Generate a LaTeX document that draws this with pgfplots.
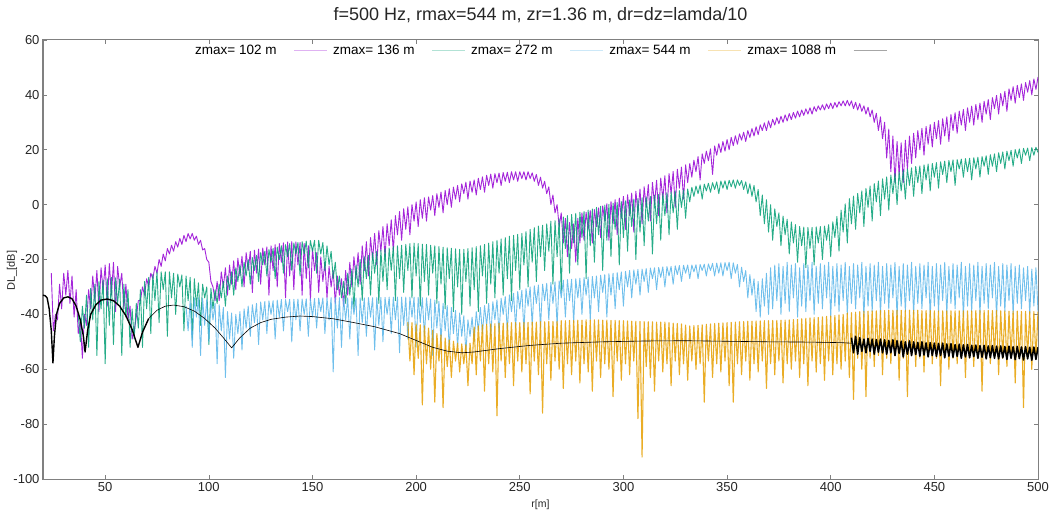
\documentclass[border=0pt]{standalone}
\usepackage{pgfplots}
\pgfplotsset{compat=1.18}
\usepackage{fontspec}
\setmainfont{Liberation Sans}

\definecolor{cPurple}{HTML}{9400D3}
\definecolor{cGreen}{HTML}{009E73}
\definecolor{cBlue}{HTML}{56B4E9}
\definecolor{cOrange}{HTML}{E69F00}
\definecolor{axgray}{HTML}{808080}

\begin{document}
\begin{tikzpicture}
\begin{axis}[
  scale only axis,
  width=995pt, height=439pt,
  xmin=20, xmax=500, ymin=-100, ymax=60,
  xtick={50,100,...,500},
  ytick={-100,-80,...,60},
  tick align=inside,
  major tick length=4pt,
  axis line style={draw=axgray, line width=1pt},
  every tick/.style={draw=axgray, line width=0.6pt},
  ticklabel style={font=\fontsize{13}{15}\selectfont, text=black!85},
  /pgf/number format/assume math mode=true,
  title={f=500 Hz, rmax=544 m, zr=1.36 m, dr=dz=lamda/10},
  title style={font=\fontsize{18}{20}\selectfont, at={(0.5,1)}, anchor=base, yshift=13pt, text=black!85},
  xlabel={r[m]},
  xlabel style={font=\fontsize{10.5}{12}\selectfont, at={(0.5,0)}, anchor=base, yshift=-28pt, text=black!85},
  ylabel={DL\_[dB]},
  ylabel style={font=\fontsize{11}{13}\selectfont, at={(0,0.475)}, anchor=center, yshift=31pt, text=black!85},
  no markers,
  every axis plot/.append style={line join=round, line width=0.9pt, opacity=0.85},
  legend plot pos=right,
  legend columns=-1,
  legend image code/.code={%
    \draw[#1, line width=1.2pt] (0pt,0pt) -- (33pt,0pt);
    \draw[white, opacity=0.65, line width=1.6pt] (0pt,0pt) -- (33pt,0pt);},
  legend style={at={(0.5,1)}, anchor=north, yshift=-1pt, draw=none, fill=none,
    font=\fontsize{13.5}{15}\selectfont,
    /tikz/every even column/.append style={column sep=3pt},
    /tikz/every odd column/.append style={column sep=15pt}},
]

% zmax = 102 m
\addplot[cPurple] coordinates {
(24,-25)(25,-46)(26,-40)(27,-42)(28,-29)(29,-38)(30,-25)(31,-33)(32,-24)(33,-36)
(34,-26)(35,-41)(36,-31)(37,-47)(38,-42)(39,-56)(40,-40)(41,-44)(42,-31)(43,-38)
(44,-26)(45,-35)(46,-24)(47,-39)(48,-23)(49,-31)(50,-22)(51,-37)(52,-21.5)(53,-33)
(54,-21)(55,-39)(56,-22.5)(57,-30)(58,-25)(59,-38)(60,-29)(61,-42)(62,-37)(63,-49)
(64,-46)(65,-41)(66,-35)(67,-35)(68,-30)(69,-33)(70,-27)(71,-30)(72,-25)(73,-27)
(74,-22.5)(75,-25)(76,-20)(77,-22.5)(78,-18)(79,-20.5)(80,-16)(81,-18)(82,-14.8)(83,-17)
(84,-13.5)(85,-15.5)(86,-12.3)(87,-14.5)(88,-11.2)(89,-13.5)(90,-10.5)(91,-12.5)(92,-10.5)(93,-13)
(94,-11.5)(95,-14.5)(96,-13)(97,-16.5)(98,-16)(99,-20)(100,-21)(101,-28)(102,-30)(103,-35)
(104,-28)(105,-35)(106,-24.5)(107,-30)(108,-23)(109,-33)(110,-22)(111,-29)(112,-20.5)(113,-31)
(114,-19.5)(115,-26)(116,-18.8)(117,-30)(118,-17.5)(119,-24)(120,-17)(121,-32)(122,-16.6)(123,-25)
(124,-16.2)(125,-29)(126,-15.8)(127,-22)(128,-15.4)(129,-33)(130,-15)(131,-24)(132,-14.6)(133,-30)
(134,-14.2)(135,-21)(136,-13.9)(137,-34)(138,-13.6)(139,-26)(140,-13.5)(141,-31)(142,-13.6)(143,-22)
(144,-13.8)(145,-33)(146,-14.2)(147,-27)(148,-15)(149,-35)(150,-16)(151,-24)(152,-17.5)(153,-32)
(154,-19)(155,-28)(156,-21)(157,-34)(158,-22.5)(159,-30)(160,-24)(161,-36)(162,-26)(163,-33)
(164,-27)(165,-37)(166,-24)(167,-33)(168,-21)(169,-30)(170,-19)(171,-27)(172,-17.5)(173,-29)
(174,-15)(175,-24)(176,-13.5)(177,-26)(178,-12)(179,-20)(180,-10.5)(181,-22)(182,-9.5)(183,-17)
(184,-8)(185,-19)(186,-7)(187,-15)(188,-5.5)(189,-17)(190,-4)(191,-11)(192,-2.5)(193,-13)
(194,-1.5)(195,-9)(196,-0.8)(197,-11)(198,0)(199,-6)(200,1)(201,-8)(202,1.8)(203,-5)
(204,2.5)(205,-6)(206,2.8)(207,-2)(208,3.3)(209,-4)(210,4)(211,-1)(212,4.6)(213,-3)
(214,5.2)(215,0)(216,5.8)(217,-1)(218,6.4)(219,2)(220,7)(221,1)(222,7.6)(223,4)
(224,8.2)(225,2)(226,8.6)(227,4.5)(228,9)(229,3.5)(230,9.6)(231,5.5)(232,10.1)(233,4.5)
(234,10.7)(235,7)(236,11.1)(237,6)(238,11.3)(239,8)(240,11.5)(241,7)(242,11.7)(243,8.5)
(244,11.8)(245,8)(246,12)(247,9)(248,12)(249,8.5)(250,12)(251,9.5)(252,12)(253,9)
(254,12)(255,9.5)(256,11.6)(257,8.5)(258,11)(259,7)(260,10)(261,6)(262,8.5)(263,4)
(264,6.5)(265,0)(266,3.5)(267,-3)(268,0)(269,-8)(270,-3)(271,-14)(272,-5)(273,-19)
(274,-6.5)(275,-16)(276,-7)(277,-21)(278,-5)(279,-14)(280,-3)(281,-13)(282,-2.8)(283,-9)
(284,-2.2)(285,-14)(286,-1.8)(287,-8)(288,-1.2)(289,-12)(290,-0.5)(291,-6)(292,0.3)(293,-13)
(294,1.1)(295,-7)(296,1.8)(297,-11)(298,2.4)(299,-5)(300,3)(301,-9)(302,3.6)(303,-4)
(304,4.2)(305,-10)(306,4.9)(307,-3)(308,5.7)(309,-7)(310,6.5)(311,-1)(312,7.3)(313,-6)
(314,8.1)(315,0)(316,8.9)(317,-4)(318,9.7)(319,2)(320,10.5)(321,-3)(322,11.3)(323,4)
(324,12.1)(325,-1)(326,12.9)(327,6)(328,13.7)(329,2)(330,14.5)(331,8)(332,15)(333,10)
(334,16.2)(335,12)(336,17.5)(337,9)(338,18.5)(339,15)(340,19.5)(341,16)(342,20.3)(343,11)
(344,21.4)(345,18)(346,22.2)(347,19)(348,23)(349,19.5)(350,23.7)(351,20)(352,24.5)(353,21.5)
(354,25.1)(355,22)(356,25.8)(357,23.5)(358,26.4)(359,23)(360,27)(361,24.5)(362,27.7)(363,25)
(364,28.4)(365,25.5)(366,29.1)(367,27)(368,29.8)(369,27)(370,30.5)(371,28)(372,31.1)(373,29)
(374,31.7)(375,29.5)(376,32.2)(377,30)(378,32.7)(379,30.5)(380,33.2)(381,31)(382,33.6)(383,31.5)
(384,34.1)(385,32)(386,34.5)(387,32.5)(388,34.9)(389,33)(390,35.3)(391,33)(392,35.7)(393,34)
(394,36)(395,34.5)(396,36.4)(397,34.5)(398,36.7)(399,35)(400,37)(401,35)(402,37.2)(403,35.5)
(404,37.5)(405,36)(406,37.8)(407,36)(408,38)(409,36)(410,37.8)(411,35)(412,37.3)(413,34.5)
(414,36.8)(415,34)(416,36)(417,33)(418,35.5)(419,32)(420,34.5)(421,30)(422,33.3)(423,27)
(424,32)(425,24)(426,30)(427,17)(428,27.5)(429,12)(430,25)(431,8)(432,23)(433,11)
(434,22.5)(435,8)(436,23.5)(437,13)(438,25)(439,15)(440,26)(441,17)(442,27)(443,20)
(444,27.8)(445,18)(446,28.5)(447,22)(448,29.2)(449,21)(450,30)(451,24)(452,30.6)(453,22)
(454,31.3)(455,25)(456,32)(457,23)(458,32.8)(459,27)(460,33.5)(461,26)(462,34.1)(463,29)
(464,34.7)(465,27)(466,35.3)(467,30)(468,35.9)(469,29)(470,36.5)(471,31)(472,37)(473,30)
(474,37.7)(475,33)(476,38.3)(477,31)(478,39)(479,35)(480,39.8)(481,33)(482,40.5)(483,36)
(484,41.3)(485,34)(486,42.2)(487,38)(488,43)(489,37)(490,43.5)(491,39)(492,44)(493,38)
(494,44.5)(495,41)(496,45.2)(497,40)(498,45.8)(499,42)(500,46.5)
};
\addlegendentry{zmax= 102 m}

% zmax = 136 m
\addplot[cGreen] coordinates {
(37,-40)(38,-50)(39,-37)(40,-45)(41,-33)(42,-52)(43,-30.5)(44,-42)(45,-29)(46,-55)
(47,-28)(48,-38)(49,-27.5)(50,-58)(51,-27)(52,-44)(53,-26.5)(54,-51)(55,-26.7)(56,-36)
(57,-27.2)(58,-55)(59,-29)(60,-41)(61,-31)(62,-52)(63,-38)(64,-49)(65,-36)(66,-45)
(67,-31)(68,-52)(69,-28)(70,-38)(71,-26.5)(72,-47)(73,-25.5)(74,-35)(75,-24.5)(76,-43)
(77,-24.5)(78,-31)(79,-24.5)(80,-48)(81,-24.5)(82,-34)(83,-25)(84,-40)(85,-25.3)(86,-30)
(87,-25.6)(88,-46)(89,-26)(90,-35)(91,-26.5)(92,-49)(93,-27)(94,-37)(95,-28.5)(96,-44)
(97,-29)(98,-34)(99,-30)(100,-51)(101,-30.5)(102,-38)(103,-31)(104,-36)(105,-29)(106,-34)
(107,-28)(108,-37)(109,-26)(110,-31)(111,-24.5)(112,-33)(113,-23)(114,-28)(115,-22)(116,-30)
(117,-21)(118,-26)(119,-20)(120,-29)(121,-19.3)(122,-24)(123,-18.5)(124,-28)(125,-17.5)(126,-22)
(127,-17)(128,-26)(129,-16.4)(130,-21)(131,-16)(132,-27)(133,-15.5)(134,-20)(135,-15)(136,-25)
(137,-14.6)(138,-19)(139,-14.2)(140,-24)(141,-14)(142,-18)(143,-13.8)(144,-26)(145,-13.5)(146,-18)
(147,-13.3)(148,-23)(149,-13.1)(150,-17)(151,-13)(152,-25)(153,-13)(154,-18)(155,-13.8)(156,-24)
(157,-15)(158,-22)(159,-17)(160,-27)(161,-21)(162,-31)(163,-26)(164,-34)(165,-28)(166,-36)
(167,-25)(168,-33)(169,-23.5)(170,-38)(171,-22)(172,-30)(173,-20)(174,-35)(175,-19)(176,-27)
(177,-18.5)(178,-33)(179,-17.5)(180,-25)(181,-17)(182,-36)(183,-16.6)(184,-28)(185,-16)(186,-31)
(187,-15.8)(188,-24)(189,-15.3)(190,-35)(191,-15)(192,-27)(193,-14.8)(194,-32)(195,-14.5)(196,-24)
(197,-14.2)(198,-34)(199,-14)(200,-26)(201,-14.2)(202,-37)(203,-14.4)(204,-28)(205,-14.5)(206,-33)
(207,-14.8)(208,-25)(209,-15)(210,-36)(211,-15.3)(212,-29)(213,-15.5)(214,-38)(215,-15.7)(216,-27)
(217,-15.9)(218,-39)(219,-16.1)(220,-30)(221,-16.3)(222,-40)(223,-16.3)(224,-28)(225,-16)(226,-37)
(227,-15.7)(228,-31)(229,-15.3)(230,-39)(231,-15)(232,-26)(233,-14.5)(234,-36)(235,-14)(236,-29)
(237,-13.5)(238,-34)(239,-13)(240,-25)(241,-12.5)(242,-33)(243,-12)(244,-27)(245,-11.5)(246,-35)
(247,-11.2)(248,-24)(249,-10.8)(250,-31)(251,-10.5)(252,-22)(253,-9.8)(254,-30)(255,-9)(256,-21)
(257,-8.4)(258,-28)(259,-7.8)(260,-19)(261,-7.5)(262,-24)(263,-7)(264,-17)(265,-6)(266,-29)
(267,-5.8)(268,-19)(269,-5.2)(270,-32)(271,-4.5)(272,-16)(273,-4)(274,-25)(275,-3.6)(276,-14)
(277,-3.2)(278,-22)(279,-2.8)(280,-12)(281,-2.5)(282,-27)(283,-2)(284,-15)(285,-1.6)(286,-21)
(287,-1)(288,-11)(289,-0.6)(290,-24)(291,-0.2)(292,-13)(293,0.1)(294,-19)(295,0.5)(296,-9)
(297,0.8)(298,-22)(299,1.1)(300,-12)(301,1.4)(302,-17)(303,1.7)(304,-8)(305,2)(306,-20)
(307,2.2)(308,-10)(309,2.5)(310,-15)(311,2.8)(312,-6)(313,3)(314,-18)(315,3.4)(316,-7)
(317,3.7)(318,-13)(319,4)(320,-4)(321,4.3)(322,-11)(323,4.6)(324,-3)(325,4.9)(326,-9)
(327,5.1)(328,-1)(329,5.4)(330,-5)(331,5.7)(332,1)(333,6.3)(334,3)(335,6.8)(336,4)
(337,7.2)(338,2)(339,7.5)(340,5)(341,7.8)(342,4.5)(343,8)(344,5.5)(345,8.3)(346,4)
(347,8.6)(348,6)(349,8.7)(350,5.5)(351,8.9)(352,6.5)(353,9)(354,6)(355,9)(356,7)
(357,8.8)(358,5.5)(359,8.3)(360,4)(361,7.6)(362,3)(363,7)(364,1)(365,5.5)(366,-4)
(367,3.5)(368,-7)(369,1.8)(370,-10)(371,0)(372,-13)(373,-1.5)(374,-8)(375,-3)(376,-15)
(377,-4.2)(378,-11)(379,-5.3)(380,-18)(381,-6.3)(382,-14)(383,-7.3)(384,-21)(385,-8)(386,-15)
(387,-8.2)(388,-23)(389,-8.3)(390,-16)(391,-8.3)(392,-22)(393,-8.1)(394,-14)(395,-8)(396,-20)
(397,-7.8)(398,-13)(399,-7.3)(400,-19)(401,-6.3)(402,-12)(403,-4.3)(404,-17)(405,-2)(406,-10)
(407,0.3)(408,-14)(409,2.2)(410,-7)(411,3.1)(412,-9)(413,4.1)(414,-3)(415,5)(416,-8)
(417,5.9)(418,-1)(419,6.8)(420,-6)(421,7.7)(422,1)(423,8.6)(424,-4)(425,9.4)(426,2)
(427,10.1)(428,-2)(429,10.8)(430,4)(431,11.4)(432,0)(433,12)(434,5)(435,12.5)(436,2)
(437,13)(438,7)(439,13.4)(440,3)(441,13.9)(442,8)(443,14.1)(444,4)(445,14.5)(446,9)
(447,14.8)(448,5)(449,15)(450,10)(451,15.3)(452,6)(453,15.6)(454,11)(455,15.9)(456,8)
(457,16.1)(458,12)(459,16.3)(460,7)(461,16.4)(462,13)(463,16.6)(464,10)(465,16.8)(466,12)
(467,16.9)(468,9)(469,17.1)(470,13)(471,17.3)(472,10)(473,17.5)(474,14)(475,17.8)(476,11)
(477,18.2)(478,14)(479,18.5)(480,12)(481,18.9)(482,15)(483,19.2)(484,13)(485,19.5)(486,16)
(487,19.8)(488,14)(489,20.1)(490,17)(491,20.3)(492,15)(493,20.5)(494,18)(495,20.6)(496,16)
(497,20.8)(498,18)(499,20.9)(500,19)
};
\addlegendentry{zmax= 136 m}

% zmax = 272 m
\addplot[cBlue] coordinates {
(89,-37)(90,-46)(91,-35)(92,-52)(93,-34)(94,-41)(95,-34)(96,-55)(97,-34.2)(98,-44)
(99,-34.5)(100,-50)(101,-35)(102,-42)(103,-36)(104,-58)(105,-36.5)(106,-46)(107,-37.5)(108,-63)
(109,-39)(110,-49)(111,-39.5)(112,-56)(113,-40)(114,-47)(115,-39)(116,-53)(117,-38)(118,-45)
(119,-37)(120,-48)(121,-36.5)(122,-43)(123,-36)(124,-51)(125,-35.5)(126,-42)(127,-35.3)(128,-47)
(129,-35.1)(130,-40)(131,-35)(132,-49)(133,-34.8)(134,-41)(135,-34.6)(136,-46)(137,-34.6)(138,-39)
(139,-34.5)(140,-50)(141,-34.5)(142,-42)(143,-34.4)(144,-46)(145,-34.4)(146,-40)(147,-34.3)(148,-48)
(149,-34.3)(150,-41)(151,-34.2)(152,-45)(153,-34.1)(154,-39)(155,-34)(156,-47)(157,-34)(158,-42)
(159,-33.9)(160,-61)(161,-33.8)(162,-45)(163,-33.9)(164,-52)(165,-34)(166,-42)(167,-34)(168,-49)
(169,-34)(170,-40)(171,-34)(172,-55)(173,-34)(174,-43)(175,-34)(176,-48)(177,-33.9)(178,-41)
(179,-33.9)(180,-53)(181,-33.8)(182,-44)(183,-33.8)(184,-50)(185,-33.8)(186,-40)(187,-33.7)(188,-47)
(189,-33.7)(190,-42)(191,-33.7)(192,-54)(193,-33.7)(194,-44)(195,-33.7)(196,-49)(197,-33.7)(198,-41)
(199,-33.7)(200,-52)(201,-33.8)(202,-43)(203,-33.9)(204,-48)(205,-34)(206,-42)(207,-34.4)(208,-55)
(209,-34.8)(210,-45)(211,-35.3)(212,-50)(213,-36)(214,-46)(215,-36.8)(216,-53)(217,-37.5)(218,-47)
(219,-38.5)(220,-52)(221,-39.5)(222,-48)(223,-40.5)(224,-54)(225,-42)(226,-48)(227,-41)(228,-50)
(229,-39)(230,-46)(231,-37.5)(232,-47)(233,-36.8)(234,-44)(235,-36)(236,-48)(237,-35.4)(238,-42)
(239,-34.7)(240,-47)(241,-34.1)(242,-40)(243,-33.5)(244,-46)(245,-32.9)(246,-39)(247,-32.3)(248,-45)
(249,-31.7)(250,-38)(251,-31.2)(252,-46)(253,-30.6)(254,-37)(255,-30)(256,-44)(257,-29.6)(258,-36)
(259,-29.3)(260,-45)(261,-29)(262,-35)(263,-28.7)(264,-42)(265,-28.4)(266,-36)(267,-28.1)(268,-44)
(269,-27.8)(270,-34)(271,-27.5)(272,-41)(273,-27.3)(274,-35)(275,-27.2)(276,-43)(277,-27)(278,-34)
(279,-26.8)(280,-40)(281,-26.6)(282,-33)(283,-26.4)(284,-42)(285,-26.2)(286,-34)(287,-26)(288,-39)
(289,-25.7)(290,-32)(291,-25.5)(292,-41)(293,-25.2)(294,-33)(295,-25)(296,-38)(297,-24.8)(298,-31)
(299,-24.5)(300,-37)(301,-24.3)(302,-30)(303,-24)(304,-34)(305,-23.8)(306,-29)(307,-23.6)(308,-33)
(309,-23.5)(310,-28)(311,-23.3)(312,-32)(313,-23.1)(314,-27)(315,-23)(316,-31)(317,-22.9)(318,-26.5)
(319,-22.7)(320,-30)(321,-22.6)(322,-26)(323,-22.5)(324,-29)(325,-22.3)(326,-25.5)(327,-22.2)(328,-28)
(329,-22.1)(330,-25)(331,-22)(332,-27)(333,-22)(334,-24.5)(335,-21.9)(336,-27)(337,-21.8)(338,-24)
(339,-21.7)(340,-26)(341,-21.6)(342,-24)(343,-21.4)(344,-26)(345,-21.3)(346,-25)(347,-21.2)(348,-26)
(349,-21.1)(350,-24)(351,-21)(352,-27)(353,-21.2)(354,-25)(355,-21.8)(356,-30)(357,-22.8)(358,-28)
(359,-24)(360,-34)(361,-25.5)(362,-33)(363,-27)(364,-39)(365,-28)(366,-41)(367,-27)(368,-37)
(369,-25)(370,-40)(371,-23)(372,-38)(373,-22)(374,-35)(375,-21.5)(376,-40)(377,-22.5)(378,-36)
(379,-21)(380,-39)(381,-22)(382,-34)(383,-21.5)(384,-41)(385,-23)(386,-37)(387,-21.5)(388,-39)
(389,-22)(390,-35)(391,-21)(392,-40)(393,-22.5)(394,-36)(395,-21.5)(396,-38)(397,-22)(398,-34)
(399,-21)(400,-41)(401,-22.5)(402,-37)(403,-21.5)(404,-39)(405,-22)(406,-35)(407,-21)(408,-40)
(409,-22.5)(410,-36)(411,-21.5)(412,-38)(413,-22)(414,-34)(415,-21)(416,-41)(417,-22.5)(418,-37)
(419,-21.5)(420,-39)(421,-22)(422,-35)(423,-21)(424,-40)(425,-22.5)(426,-36)(427,-21.5)(428,-38)
(429,-22)(430,-34)(431,-21)(432,-41)(433,-22.5)(434,-37)(435,-21.5)(436,-39)(437,-22)(438,-35)
(439,-21)(440,-40)(441,-22.5)(442,-36)(443,-21.5)(444,-38)(445,-22)(446,-34)(447,-21)(448,-41)
(449,-22.5)(450,-37)(451,-21.5)(452,-39)(453,-22)(454,-35)(455,-21)(456,-40)(457,-22.5)(458,-36)
(459,-21.5)(460,-38)(461,-22)(462,-34)(463,-21)(464,-41)(465,-22.5)(466,-37)(467,-21.5)(468,-39)
(469,-22)(470,-35)(471,-21)(472,-40)(473,-22.5)(474,-36)(475,-21.5)(476,-38)(477,-22)(478,-34)
(479,-21)(480,-41)(481,-22.5)(482,-37)(483,-21.5)(484,-39)(485,-22)(486,-35)(487,-21.5)(488,-40)
(489,-22.5)(490,-36)(491,-22)(492,-38)(493,-23)(494,-35)(495,-22.5)(496,-40)(497,-23.5)(498,-37)
(499,-23)(500,-39)
};
\addlegendentry{zmax= 272 m}

% zmax = 544 m
\addplot[cOrange, line width=1.1pt] coordinates {
(196,-42.8)(197,-57)(198,-43)(199,-62)(200,-43.5)(201,-56)(202,-43.8)(203,-73)(204,-44.2)(205,-58)
(206,-45)(207,-60)(208,-45.8)(209,-72)(210,-47)(211,-57)(212,-47.5)(213,-74)(214,-48.6)(215,-59)
(216,-49.3)(217,-63)(218,-49.8)(219,-57)(220,-50.5)(221,-61)(222,-50.8)(223,-58)(224,-51)(225,-66)
(226,-50.5)(227,-58)(228,-44.6)(229,-62)(230,-44.2)(231,-57)(232,-43.8)(233,-68)(234,-43.6)(235,-58)
(236,-43.5)(237,-61)(238,-43.4)(239,-77)(240,-43.2)(241,-57)(242,-43.2)(243,-63)(244,-43.1)(245,-58)
(246,-43)(247,-66)(248,-43)(249,-57)(250,-43)(251,-61)(252,-42.9)(253,-58)(254,-42.9)(255,-69)
(256,-42.8)(257,-57)(258,-42.8)(259,-62)(260,-42.7)(261,-76)(262,-42.7)(263,-58)(264,-42.6)(265,-64)
(266,-42.6)(267,-57)(268,-42.5)(269,-60)(270,-42.3)(271,-67)(272,-42.3)(273,-58)(274,-42.2)(275,-62)
(276,-42.2)(277,-57)(278,-42.1)(279,-65)(280,-42.1)(281,-58)(282,-42)(283,-61)(284,-42)(285,-68)
(286,-42)(287,-57)(288,-42)(289,-63)(290,-42.1)(291,-58)(292,-42.1)(293,-60)(294,-42.2)(295,-70)
(296,-42.2)(297,-57)(298,-42.3)(299,-64)(300,-42.3)(301,-58)(302,-42.4)(303,-62)(304,-42.5)(305,-57)
(306,-42.5)(307,-78)(308,-42.6)(309,-92)(310,-42.6)(311,-59)(312,-42.7)(313,-63)(314,-42.7)(315,-68)
(316,-42.8)(317,-57)(318,-42.8)(319,-61)(320,-42.8)(321,-58)(322,-43)(323,-66)(324,-43.2)(325,-57)
(326,-43.3)(327,-62)(328,-43.5)(329,-58)(330,-43.9)(331,-64)(332,-44.2)(333,-57)(334,-44.1)(335,-60)
(336,-44)(337,-58)(338,-43.8)(339,-72)(340,-43.6)(341,-57)(342,-43.5)(343,-63)(344,-43.3)(345,-58)
(346,-43.2)(347,-61)(348,-43.1)(349,-57)(350,-43)(351,-66)(352,-42.9)(353,-72)(354,-42.8)(355,-58)
(356,-42.7)(357,-62)(358,-42.6)(359,-57)(360,-42.5)(361,-64)(362,-42.5)(363,-58)(364,-42.4)(365,-61)
(366,-42.4)(367,-57)(368,-42.3)(369,-67)(370,-42.3)(371,-58)(372,-42.2)(373,-62)(374,-42.2)(375,-57)
(376,-42.1)(377,-65)(378,-42.1)(379,-58)(380,-42)(381,-60)(382,-41.9)(383,-57)(384,-41.8)(385,-63)
(386,-41.6)(387,-58)(388,-41.4)(389,-66)(390,-41.3)(391,-57)(392,-41.2)(393,-61)(394,-41.1)(395,-58)
(396,-40.9)(397,-64)(398,-40.7)(399,-57)(400,-40.6)(401,-62)(402,-40.4)(403,-58)(404,-40.2)(405,-60)
(406,-40)(407,-57)(408,-39.5)(409,-63)(410,-39.4)(411,-71)(412,-39.2)(413,-56)(414,-39)(415,-60)
(416,-38.9)(417,-70)(418,-38.8)(419,-56)(420,-38.7)(421,-59)(422,-38.7)(423,-55)(424,-38.6)(425,-62)
(426,-38.6)(427,-56)(428,-38.5)(429,-58)(430,-38.5)(431,-55)(432,-38.5)(433,-64)(434,-38.5)(435,-56)
(436,-38.5)(437,-70)(438,-38.5)(439,-55)(440,-38.5)(441,-59)(442,-38.5)(443,-56)(444,-38.6)(445,-61)
(446,-38.6)(447,-55)(448,-38.6)(449,-58)(450,-38.7)(451,-56)(452,-38.7)(453,-66)(454,-38.7)(455,-55)
(456,-38.7)(457,-60)(458,-38.7)(459,-56)(460,-38.7)(461,-58)(462,-38.7)(463,-55)(464,-38.7)(465,-63)
(466,-38.7)(467,-56)(468,-38.7)(469,-59)(470,-38.6)(471,-55)(472,-38.6)(473,-68)(474,-38.6)(475,-56)
(476,-38.6)(477,-58)(478,-38.6)(479,-55)(480,-38.6)(481,-62)(482,-38.7)(483,-56)(484,-38.7)(485,-59)
(486,-38.8)(487,-55)(488,-38.8)(489,-65)(490,-38.8)(491,-56)(492,-38.9)(493,-74)(494,-38.9)(495,-55)
(496,-39)(497,-60)(498,-39)(499,-56)(500,-39)
};
\addlegendentry{zmax= 544 m}

% zmax = 1088 m: near range
\addplot[black, line width=1.4pt, opacity=1] coordinates {
(20,-33)(21,-33.2)(22,-34)(23,-38)(24,-46)(24.8,-57.7)(25.5,-48)(26.5,-40)(28,-36)(30,-34)
(32,-33.6)(34,-34.3)(36,-37)(38,-42)(39.5,-48)(40.3,-53.7)(41.5,-46)(43,-40)(45.5,-36.5)(48,-34.8)
(51,-34.4)(54,-35)(57,-37)(60,-40.5)(63,-45.5)(65.8,-52)(68,-46.5)(71,-41.5)
};
\addlegendentry{zmax= 1088 m}
% zmax = 1088 m: middle range
\addplot[black, line width=0.6pt, opacity=1, forget plot] coordinates {
(71,-41.5)(75,-38.5)(79,-37)(83,-36.6)(88,-37.2)(93,-38.8)(98,-41.5)(103,-45)(107,-48.5)(111,-52.2)
(115,-48.5)(120,-45)(125,-43)(130,-41.8)(137,-41)(144,-40.6)(150,-40.8)(160,-41.6)(170,-43)(180,-44.5)
(192,-47)(200,-49.5)(208,-52)(215,-53.4)(222,-54)(228,-53.7)(240,-52.5)(255,-51.3)(270,-50.5)(290,-50)
(310,-49.7)(330,-49.6)(350,-49.8)(370,-50)(390,-50.1)(405,-50.3)(410,-50.5)
};
% zmax = 1088 m: far range
\addplot[black, line width=1.6pt, opacity=1, forget plot] coordinates {
(410,-48.5)(411,-54)(412,-48)(413,-54.5)(414,-48.5)(415,-53.5)(416,-49)(417,-54)(418,-48.8)(419,-53.5)
(420,-49)(421,-54.5)(422,-49.2)(423,-53.8)(424,-49)(425,-54)(426,-49.3)(427,-54.5)(428,-49.5)(429,-54)
(430,-49.3)(431,-55)(432,-49.6)(433,-54.2)(434,-49.8)(435,-55.5)(436,-50)(437,-54.5)(438,-49.7)(439,-55)
(440,-50)(441,-54.6)(442,-50.2)(443,-55.2)(444,-50)(445,-54.8)(446,-50.4)(447,-55.5)(448,-50.3)(449,-55)
(450,-50.5)(451,-55.3)(452,-50.6)(453,-55)(454,-50.5)(455,-55.8)(456,-50.8)(457,-55.2)(458,-50.7)(459,-55.6)
(460,-51)(461,-55.3)(462,-50.9)(463,-56)(464,-51.1)(465,-55.5)(466,-51)(467,-55.8)(468,-51.3)(469,-55.4)
(470,-51.2)(471,-56)(472,-51.4)(473,-55.6)(474,-51.3)(475,-56.2)(476,-51.5)(477,-55.8)(478,-51.4)(479,-56)
(480,-51.6)(481,-56.2)(482,-51.5)(483,-55.8)(484,-51.7)(485,-56.4)(486,-51.6)(487,-56)(488,-51.8)(489,-56.5)
(490,-51.7)(491,-56.1)(492,-51.9)(493,-56.6)(494,-51.8)(495,-56.2)(496,-52)(497,-56.7)(498,-51.9)(499,-56.4)
(500,-52)
};
\end{axis}
\path ([shift={(-43pt,-33pt)}]current axis.south west) rectangle ([shift={(17pt,40pt)}]current axis.north east);
\end{tikzpicture}
\end{document}
